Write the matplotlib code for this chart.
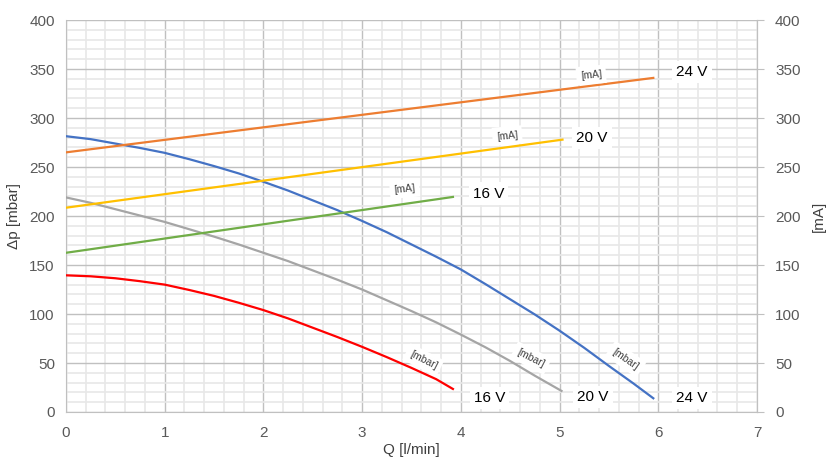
import numpy as np
import matplotlib.pyplot as plt
from matplotlib.ticker import MultipleLocator

plt.rcParams['font.family'] = ['Liberation Sans', 'DejaVu Sans']

# --- pressure curves (left axis, mbar) ---
q_24 = [0, 0.25, 0.5, 0.75, 1, 1.25, 1.5, 1.75, 2, 2.25, 2.5, 2.75, 3, 3.25,
        3.5, 3.75, 4, 4.25, 4.5, 4.75, 5, 5.25, 5.5, 5.75, 5.95]
p_24 = [281.5, 278.5, 274, 269.5, 264.5, 258, 251, 243.5, 235, 226, 216, 206, 195, 183.5,
        171, 158.5, 145.5, 130.5, 115, 99.5, 83, 65.5, 47, 29, 14]
q_20 = [0, 0.25, 0.5, 0.75, 1, 1.25, 1.5, 1.75, 2, 2.25, 2.5, 2.75, 3, 3.25,
        3.5, 3.75, 4, 4.25, 4.5, 4.75, 5.02]
p_20 = [219, 213.5, 207, 200.5, 194, 186.5, 179, 171, 162.5, 154, 144.5, 135, 125, 114,
        103, 91.5, 79, 66, 52, 37, 21.5]
q_16 = [0, 0.25, 0.5, 0.75, 1, 1.25, 1.5, 1.75, 2, 2.25, 2.5, 2.75, 3, 3.25,
        3.5, 3.75, 3.92]
p_16 = [139.5, 138.5, 136.5, 133.5, 130, 124.5, 118.5, 111.5, 104, 95.5, 86, 76.5, 66.5, 56,
        45, 33.5, 23.5]

# --- current curves (right axis, mA) ---
qi_24 = [0, 5.95]
i_24 = [265, 341]
qi_20 = [0, 5.03]
i_20 = [208.5, 278]
qi_16 = [0, 3.92]
i_16 = [162.5, 219.5]

TXT = "#404040"
TICK = "#595959"

fig = plt.figure(figsize=(8.3, 4.57), dpi=100)
ax = fig.add_axes([0.0795, 0.0985, 0.8325, 0.8575])
ax2 = ax.twinx()

ax.set_xlim(0, 7)
ax.set_ylim(0, 400)
ax2.set_ylim(0, 400)

# grid
ax.xaxis.set_major_locator(MultipleLocator(1))
ax.xaxis.set_minor_locator(MultipleLocator(0.2))
ax.yaxis.set_major_locator(MultipleLocator(50))
ax.yaxis.set_minor_locator(MultipleLocator(10))
ax2.yaxis.set_major_locator(MultipleLocator(50))
ax.grid(which='minor', color='#e8e8e8', lw=1.2, zorder=0)
ax.grid(which='major', color='#c0c0c0', lw=1.0, zorder=0)
ax.set_axisbelow(True)

for a in (ax, ax2):
    for s in a.spines.values():
        s.set_color('#c0c0c0')
    a.spines['top'].set_visible(False)
ax2.spines['left'].set_visible(False)
ax2.spines['bottom'].set_visible(False)

ax.tick_params(which='both', length=0, labelsize=11, colors=TICK, pad=8)
ax.tick_params(axis='x', pad=10)
ax2.tick_params(which='major', length=5, color='#c0c0c0', labelsize=11, labelcolor=TICK, pad=8)

ax.set_xlabel("Q [l/min]", fontsize=11, color=TXT, labelpad=2)
ax.set_ylabel("Δp [mbar]", fontsize=11, color=TXT, labelpad=6)
ax2.set_ylabel("[mA]", fontsize=11, color=TXT, labelpad=8)

lw = 1.6
ax.plot(q_24, p_24, color='#4472c4', lw=lw, zorder=3)
ax.plot(q_20, p_20, color='#a5a5a5', lw=lw, zorder=3)
ax.plot(q_16, p_16, color='#ff0000', lw=lw, zorder=3)
ax2.plot(qi_24, i_24, color='#ed7d31', lw=lw)
ax2.plot(qi_20, i_20, color='#ffc000', lw=lw)
ax2.plot(qi_16, i_16, color='#70ad47', lw=lw)

box = dict(facecolor='white', edgecolor='none', pad=3)
big = dict(fontsize=11, color='black', ha='center', va='center', bbox=box)
small = dict(fontsize=7.5, color=TXT, ha='center', va='center', bbox=box)

# voltage labels
ax2.text(6.34, 347, "24 V", **big)
ax2.text(5.33, 280, "20 V", **big)
ax2.text(4.28, 223, "16 V", **big)
ax.text(4.29, 14, "16 V", **big)
ax.text(5.34, 15, "20 V", **big)
ax.text(6.34, 14, "24 V", **big)

# unit labels
ax2.text(5.32, 344, "[mA]", rotation=5, **small)
ax2.text(4.47, 282, "[mA]", rotation=5, **small)
ax2.text(3.43, 228, "[mA]", rotation=5, **small)
ax.text(3.62, 53, "[mbar]", rotation=-27, **small)
ax.text(4.71, 55, "[mbar]", rotation=-27, **small)
ax.text(5.67, 54, "[mbar]", rotation=-35, **small)

fig.savefig("out.png", dpi=100)
